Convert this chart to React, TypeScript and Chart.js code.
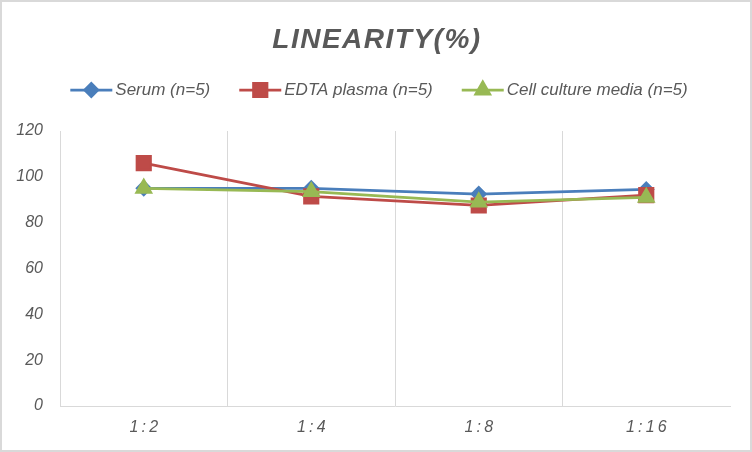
import { useEffect, useRef } from "react";
import { Chart, registerables } from "chart.js";
import { drawPoint } from "chart.js/helpers";

Chart.register(...registerables);

const categories = ["1:2", "1:4", "1:8", "1:16"];
const serum = [95, 95, 92.5, 94.5];
const edtaPlasma = [106, 91.5, 87.5, 92];
const cellCultureMedia = [95, 93.5, 89, 91];
const yTickValues = [0, 20, 40, 60, 80, 100, 120];
const seriesNames = ["Serum (n=5)", "EDTA plasma (n=5)", "Cell culture media (n=5)"];
const chartTitle = "LINEARITY(%)";

const textColor = "#595959";
const gridColor = "#d9d9d9";
const fontFamily = "'Liberation Sans', Arial, sans-serif";

const frame = {
  id: "frame",
  beforeDraw(chart: any) {
    const ctx = chart.ctx;
    ctx.save();
    ctx.fillStyle = "#ffffff";
    ctx.fillRect(0, 0, chart.width, chart.height);
    ctx.restore();
  },
  afterDraw(chart: any) {
    const ctx = chart.ctx;
    ctx.save();
    // outer border
    ctx.strokeStyle = gridColor;
    ctx.lineWidth = 2;
    ctx.strokeRect(1, 1, chart.width - 2, chart.height - 2);

    // title
    ctx.fillStyle = textColor;
    ctx.font = `italic bold 28px ${fontFamily}`;
    (ctx as any).letterSpacing = "1.5px";
    ctx.textAlign = "center";
    ctx.textBaseline = "alphabetic";
    ctx.fillText(chartTitle, chart.width / 2 + 1, 48);
    (ctx as any).letterSpacing = "0px";

    // legend: line + marker, then text
    ctx.font = `italic 17px ${fontFamily}`;
    ctx.textAlign = "left";
    ctx.textBaseline = "middle";
    const lineLen = 42;
    const gap = 3;
    const between = 29;
    const sets = chart.data.datasets;
    const widths = sets.map((d: any) => lineLen + gap + ctx.measureText(d.label).width);
    const total = widths.reduce((a: number, b: number) => a + b, 0) + between * (sets.length - 1);
    let x = chart.width / 2 - total / 2 + 3;
    const y = 90;
    sets.forEach((d: any, i: number) => {
      ctx.strokeStyle = d.borderColor;
      ctx.lineWidth = 2.75;
      ctx.beginPath();
      ctx.moveTo(x, y);
      ctx.lineTo(x + lineLen, y);
      ctx.stroke();
      ctx.fillStyle = d.pointBackgroundColor;
      ctx.strokeStyle = d.borderColor;
      drawPoint(ctx, { pointStyle: d.pointStyle, radius: d.pointRadius, rotation: 0, borderWidth: 1 }, x + lineLen / 2, y);
      ctx.fillStyle = textColor;
      ctx.fillText(d.label, x + lineLen + gap, y);
      x += widths[i] + between;
    });
    ctx.restore();
  },
};

const App = () => {
  const canvasRef = useRef<HTMLCanvasElement | null>(null);

  useEffect(() => {
    document.body.style.margin = "0";
    if (!canvasRef.current) return;
    const chart = new Chart(canvasRef.current, {
      type: "line",
      data: {
        labels: categories,
        datasets: [
          {
            label: seriesNames[0],
            data: serum,
            borderColor: "#4a7ebb",
            backgroundColor: "#4a7ebb",
            pointBackgroundColor: "#4a7ebb",
            pointStyle: "rectRot",
            pointRadius: 6.5,
            borderWidth: 2.75,
            order: 2,
          },
          {
            label: seriesNames[1],
            data: edtaPlasma,
            borderColor: "#be4b48",
            backgroundColor: "#be4b48",
            pointBackgroundColor: "#be4b48",
            pointStyle: "rect",
            pointRadius: 9.5,
            borderWidth: 2.75,
            order: 1,
          },
          {
            label: seriesNames[2],
            data: cellCultureMedia,
            borderColor: "#98b954",
            backgroundColor: "#98b954",
            pointBackgroundColor: "#98b954",
            pointStyle: "triangle",
            pointRadius: 8,
            borderWidth: 2.75,
            order: 0,
          },
        ] as any,
      },
      options: {
        animation: false,
        responsive: false,
        maintainAspectRatio: false,
        layout: { padding: { top: 131, right: 22, left: 0, bottom: 0 } },
        plugins: {
          legend: { display: false },
          title: { display: false },
          tooltip: { enabled: false },
        },
        elements: {
          line: { tension: 0 },
          point: { borderWidth: 1, hoverRadius: 8 },
        },
        scales: {
          x: {
            offset: true,
            grid: {
              offset: true,
              drawTicks: false,
              // no line at the right-hand edge
              color: (c: any) => (c.index === undefined ? "rgba(0,0,0,0)" : gridColor),
            },
            border: { display: true, color: gridColor, width: 1 },
            ticks: {
              color: textColor,
              padding: 12,
              font: { family: fontFamily, size: 16, style: "italic" },
              callback: (_v: any, i: number) => categories[i].split("").join("\u2009"),
            },
            afterFit: (scale: any) => {
              scale.height = 46;
            },
          },
          y: {
            min: yTickValues[0],
            max: yTickValues[yTickValues.length - 1],
            grid: { display: false, drawTicks: false },
            border: { display: true, color: gridColor, width: 1 },
            ticks: {
              stepSize: yTickValues[1] - yTickValues[0],
              color: textColor,
              padding: 17,
              font: { family: fontFamily, size: 16, style: "italic" },
            },
            afterFit: (scale: any) => {
              scale.width = 60;
            },
          },
        },
      },
      plugins: [frame],
    });
    return () => {
      chart.destroy();
    };
  }, []);

  return (
    <div style={{ width: 752, height: 452 }}>
      <canvas ref={canvasRef} width={752} height={452} style={{ display: "block" }} />
    </div>
  );
};

export default App;
